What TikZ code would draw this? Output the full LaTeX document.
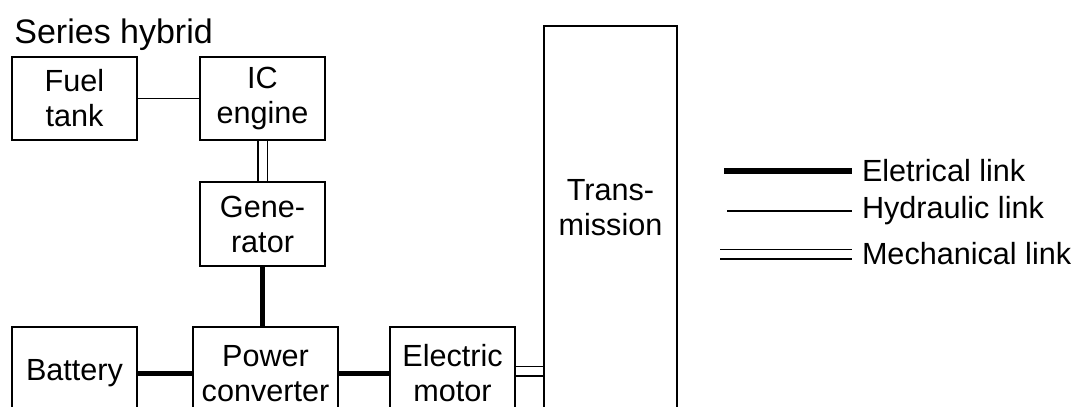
\documentclass[tikz,border=0pt]{standalone}
\usepackage{fontspec}
\setmainfont{Liberation Sans}
\usetikzlibrary{positioning,calc}

\begin{document}
\begin{tikzpicture}[x=0.5pt, y=-0.5pt,
  font=\fontsize{15.3pt}{17.5pt}\selectfont,
  blk/.style={draw, line width=0.75pt, align=center, inner sep=0pt, minimum width=62.5pt, minimum height=41.5pt},
  elec/.style={line width=2.6pt},
  hydr/.style={line width=0.75pt},
  mech/.style={double, double distance=4pt, line width=0.75pt},
  lbl/.style={anchor=west, inner sep=0pt, outer sep=5pt}]
\useasboundingbox (0,0) rectangle (1077,407);
\clip (0,0) rectangle (1077,407);
\node[anchor=base west, inner sep=0pt, font=\fontsize{17pt}{20pt}\selectfont] (title) at (14,43) {Series hybrid};
\node[blk] (fuel) at (74.5,98.5) {Fuel\\tank};
\node[blk] (ice) at (262.5,98.5) {IC\\engine};
\node[blk, minimum height=42pt] (gen) at (262.5,224) {Gene-\\rator};
\node[blk, minimum height=46.5pt] (bat) at (74.5,373.5) {Battery};
\node[blk, minimum width=72.5pt, minimum height=46.5pt] (pc) at (265.5,373.5) {Power\\converter};
\node[blk, minimum height=46.5pt] (mot) at (452.5,373.5) {Electric\\motor};
\node[blk, minimum width=66.5pt, minimum height=197.5pt, anchor=north] (trans) at (610.5,25) {};
\node[align=center, inner sep=0pt] (transtxt) at (610.5,208) {Trans-\\mission};
\draw[hydr] (fuel) -- (ice);
\draw[mech] (ice) -- (gen);
\draw[elec] (gen.south) -- (gen.south |- pc.north);
\draw[elec] (bat) -- (pc);
\draw[elec] (pc) -- (mot);
\coordinate (shaft) at ($(mot.east)+(0,-2.5)$);
\draw[mech] (shaft) -- (shaft -| trans.west);
% legend
\node[lbl] (lelec) at (852,171) {Eletrical link};
\node[lbl] (lhydr) at (852,211) {Hydraulic link};
\node[lbl] (lmech) at (852,254) {Mechanical link};
\coordinate (lelec0) at (724,171);
\coordinate (lhydr0) at (727,211);
\coordinate (lmech0) at (720,254);
\draw[elec] (lelec0) -- (lelec.west);
\draw[hydr] (lhydr0) -- (lhydr.west);
\draw[mech] (lmech0) -- (lmech.west);
\end{tikzpicture}
\end{document}
